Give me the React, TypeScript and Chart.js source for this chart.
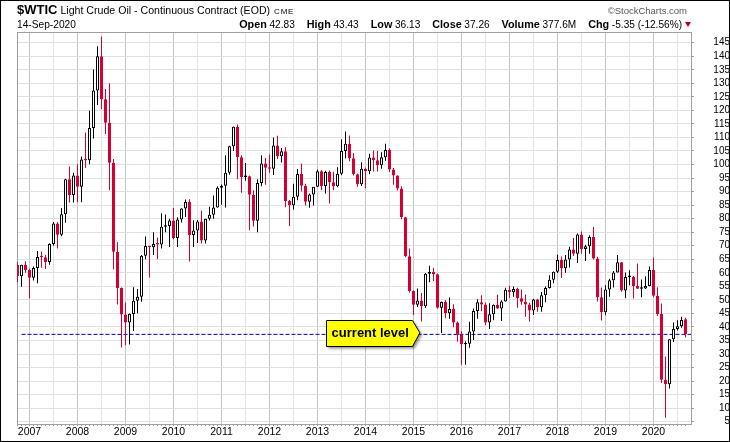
import { useEffect, useRef } from "react";
import { Chart, registerables } from "chart.js";

Chart.register(...registerables);

// ---------- data (monthly candles, Oct 2006 .. Sep 2020) ----------
// month index relative to Jan 2007 for the first candle
const firstMonthOffset = -3;

const opens = [
  62.9, 58.73, 62.97,
  61.05, 58.14, 61.79, 65.87, 65.71, 64.01, 70.68, 78.21, 74.04, 81.66, 94.53, 88.71,
  95.98, 91.75, 101.84, 101.58, 113.46, 127.35, 140.0, 124.08, 115.46, 100.64, 67.81, 54.43,
  44.6, 41.68, 44.76, 49.66, 51.12, 66.31, 69.89, 69.45, 70.61, 70.46, 77.0, 77.28,
  79.36, 72.89, 79.66, 83.76, 86.15, 73.97, 75.63, 78.95, 71.92, 79.97, 81.43, 84.11,
  91.38, 92.19, 96.97, 106.72, 113.93, 102.7, 95.42, 95.7, 88.81, 79.2, 93.19, 100.36,
  98.83, 98.48, 107.07, 103.02, 104.87, 86.53, 84.96, 88.06, 96.47, 92.19, 86.24, 88.91,
  91.82, 97.49, 92.05, 97.23, 93.46, 91.97, 96.56, 105.03, 107.65, 102.33, 96.38, 92.72,
  98.42, 97.49, 102.59, 101.58, 99.74, 102.71, 105.37, 98.17, 95.96, 91.16, 80.54, 66.15,
  53.27, 48.24, 49.76, 47.6, 59.63, 60.3, 59.47, 47.12, 49.2, 45.09, 46.59, 41.65,
  37.04, 33.62, 33.75, 38.34, 45.92, 49.1, 48.33, 41.6, 44.7, 48.24, 46.86, 49.44,
  53.72, 52.81, 54.01, 50.6, 49.33, 48.32, 46.04, 50.17, 47.23, 51.67, 54.38, 57.4,
  60.42, 64.73, 61.64, 64.94, 68.57, 67.04, 74.15, 68.76, 69.8, 73.25, 65.31, 50.93,
  45.41, 53.79, 57.22, 60.14, 63.91, 53.5, 58.47, 58.58, 55.1, 54.07, 54.18, 55.17,
  61.06, 51.56, 44.76, 20.48, 18.84, 35.49, 39.27, 40.27, 42.83,
];

const highs = [
  63.9, 63.0, 64.3,
  61.5, 62.3, 68.1, 67.9, 66.6, 70.9, 78.8, 78.8, 83.9, 94.7, 99.3, 97.0,
  100.1, 103.0, 111.8, 119.9, 135.1, 143.7, 147.3, 127.9, 130.0, 102.0, 71.3, 54.6,
  49.0, 45.0, 54.7, 54.0, 66.6, 73.4, 70.0, 75.0, 73.0, 82.0, 81.5, 80.0,
  83.95, 80.5, 83.8, 87.1, 87.2, 79.4, 79.5, 82.9, 80.0, 84.4, 88.6, 92.0,
  92.6, 103.4, 106.9, 114.0, 114.8, 103.4, 100.6, 95.9, 90.5, 94.6, 103.4, 102.4,
  103.7, 110.0, 110.6, 106.1, 106.4, 86.9, 92.9, 98.3, 100.4, 92.9, 89.3, 91.6,
  98.2, 98.0, 97.7, 97.8, 97.3, 99.0, 109.3, 112.2, 110.7, 104.3, 96.6, 100.8,
  98.9, 104.0, 105.2, 105.0, 104.5, 107.7, 106.0, 98.7, 96.0, 92.0, 80.6, 69.0,
  53.5, 54.2, 52.5, 59.9, 62.6, 61.9, 59.7, 49.4, 50.0, 50.9, 48.4, 42.0,
  38.4, 34.7, 41.9, 46.8, 50.2, 51.7, 49.0, 48.75, 48.3, 51.9, 49.9, 54.5,
  55.2, 54.9, 54.5, 53.8, 52.0, 48.9, 50.4, 50.4, 52.9, 54.9, 59.1, 60.5,
  66.7, 66.0, 66.6, 69.6, 72.9, 74.5, 75.3, 70.4, 73.9, 76.9, 65.9, 54.6,
  55.4, 57.8, 60.7, 66.6, 64.0, 60.1, 60.9, 58.8, 63.4, 57.5, 58.7, 62.3,
  65.65, 54.7, 48.7, 29.1, 35.5, 41.6, 42.5, 43.8, 43.43,
];

const lows = [
  56.55, 54.86, 60.0,
  50.48, 57.2, 56.1, 61.9, 61.4, 63.0, 70.0, 69.0, 73.5, 78.5, 86.0, 86.0,
  86.1, 86.1, 98.7, 100.1, 109.6, 122.0, 120.4, 111.3, 90.5, 61.3, 48.3, 32.4,
  33.2, 33.55, 38.5, 45.1, 49.3, 65.0, 58.3, 66.6, 65.1, 69.0, 75.0, 69.5,
  72.4, 69.5, 78.6, 80.6, 64.2, 69.5, 71.0, 70.8, 70.8, 79.3, 80.0, 84.1,
  85.1, 84.1, 96.2, 105.0, 94.6, 89.6, 94.0, 75.7, 77.1, 74.95, 92.0, 92.5,
  97.0, 96.1, 102.0, 100.7, 84.2, 77.3, 83.4, 86.8, 90.0, 84.9, 84.05, 84.9,
  91.8, 90.5, 89.3, 85.6, 90.5, 91.6, 96.0, 102.2, 101.2, 95.9, 91.8, 92.1,
  91.2, 96.4, 97.4, 97.4, 98.4, 101.4, 97.2, 92.5, 90.4, 79.8, 65.7, 52.7,
  44.4, 47.4, 42.0, 47.0, 56.5, 57.0, 46.7, 37.75, 43.2, 43.0, 39.9, 34.5,
  26.05, 26.05, 32.3, 35.2, 43.0, 45.8, 40.6, 39.2, 42.5, 46.6, 42.2, 49.4,
  50.7, 51.2, 47.1, 48.2, 43.8, 42.05, 44.4, 45.6, 45.6, 49.1, 54.2, 56.1,
  59.9, 58.1, 60.0, 62.0, 66.2, 63.6, 67.0, 64.4, 67.0, 64.9, 49.4, 42.4,
  44.35, 51.2, 54.6, 60.1, 53.0, 50.6, 55.4, 50.5, 54.0, 50.99, 54.0, 55.0,
  51.1, 44.0, 19.3, 6.5, 17.3, 34.4, 38.7, 39.7, 36.13,
];

const closes = [
  58.73, 62.97, 61.05,
  58.14, 61.79, 65.87, 65.71, 64.01, 70.68, 78.21, 74.04, 81.66, 94.53, 88.71, 95.98,
  91.75, 101.84, 101.58, 113.46, 127.35, 140.0, 124.08, 115.46, 100.64, 67.81, 54.43, 44.6,
  41.68, 44.76, 49.66, 51.12, 66.31, 69.89, 69.45, 70.61, 70.46, 77.0, 77.28, 79.36,
  72.89, 79.66, 83.76, 86.15, 73.97, 75.63, 78.95, 71.92, 79.97, 81.43, 84.11, 91.38,
  92.19, 96.97, 106.72, 113.93, 102.7, 95.42, 95.7, 88.81, 79.2, 93.19, 100.36, 98.83,
  98.48, 107.07, 103.02, 104.87, 86.53, 84.96, 88.06, 96.47, 92.19, 86.24, 88.91, 91.82,
  97.49, 92.05, 97.23, 93.46, 91.97, 96.56, 105.03, 107.65, 102.33, 96.38, 92.72, 98.42,
  97.49, 102.59, 101.58, 99.74, 102.71, 105.37, 98.17, 95.96, 91.16, 80.54, 66.15, 53.27,
  48.24, 49.76, 47.6, 59.63, 60.3, 59.47, 47.12, 49.2, 45.09, 46.59, 41.65, 37.04,
  33.62, 33.75, 38.34, 45.92, 49.1, 48.33, 41.6, 44.7, 48.24, 46.86, 49.44, 53.72,
  52.81, 54.01, 50.6, 49.33, 48.32, 46.04, 50.17, 47.23, 51.67, 54.38, 57.4, 60.42,
  64.73, 61.64, 64.94, 68.57, 67.04, 74.15, 68.76, 69.8, 73.25, 65.31, 50.93, 45.41,
  53.79, 57.22, 60.14, 63.91, 53.5, 58.47, 58.58, 55.1, 54.07, 54.18, 55.17, 61.06,
  51.56, 44.76, 20.48, 18.84, 35.49, 39.27, 40.27, 42.61, 37.26,
];

const yearLabels = [
  "2007", "2008", "2009", "2010", "2011", "2012", "2013",
  "2014", "2015", "2016", "2017", "2018", "2019", "2020",
];

const yTickValues = [
  5, 10, 15, 20, 25, 30, 35, 40, 45, 50, 55, 60, 65, 70, 75,
  80, 85, 90, 95, 100, 105, 110, 115, 120, 125, 130, 135, 140, 145,
];

const currentLevel = 37.26;
const currentLevelLabel = "current level";
const levelLineStartMonth = -2;
const calloutTipMonth = 97.6;

const titleSymbol = "$WTIC";
const titleName = "Light Crude Oil - Continuous Contract (EOD)";
const titleExchange = "CME";
const dateLabel = "14-Sep-2020";
const statLabels = ["Open", "High", "Low", "Close", "Volume", "Chg"];
const statValues = ["42.83", "43.43", "36.13", "37.26", "377.6M", "-5.35 (-12.56%)"];
const copyright = "\u00A9StockCharts.com";

// ---------- styling ----------
const FONT = "'Liberation Sans', Arial, Helvetica, sans-serif";
const RED = "#d40032";
const X_MIN = -3.125;
const X_MAX = 165.375;
const Y_MIN = 4.15;
const Y_MAX = 148.95;

export default function App() {
  const ref = useRef<HTMLCanvasElement | null>(null);

  useEffect(() => {
    document.body.style.margin = "0";
    const canvas = ref.current;
    if (!canvas) return;

    const months = opens.map((_, i) => i + firstMonthOffset);
    const isUp = closes.map((c, i) => c >= opens[i]);

    const bodyData = months.map((m, i) => ({
      x: m,
      y: [Math.min(opens[i], closes[i]), Math.max(opens[i], closes[i])],
    }));
    const wickData = months.map((m, i) => ({ x: m, y: [lows[i], highs[i]] }));

    const framePlugin = {
      id: "plotFrame",
      beforeDatasetsDraw(chart: any) {
        const { ctx, chartArea } = chart;
        const { left, top, right, bottom } = chartArea;
        ctx.save();
        ctx.strokeStyle = "#a0a0a0";
        ctx.lineWidth = 1;
        ctx.strokeRect(Math.round(left) + 0.5, Math.round(top) + 0.5, Math.round(right - left), Math.round(bottom - top));
        ctx.restore();
      },
    };

    const calloutPlugin = {
      id: "callout",
      afterDraw(chart: any) {
        const { ctx } = chart;
        const y = chart.scales.y.getPixelForValue(currentLevel);
        const tip = chart.scales.x.getPixelForValue(calloutTipMonth);
        const left = Math.round(tip - 94) + 0.5;
        const top = Math.round(y - 14) + 0.5;
        const bottom = Math.round(y + 12) + 0.5;
        const shoulder = Math.round(tip - 8) + 0.5;
        const tipY = y - 1.5;
        ctx.save();
        ctx.beginPath();
        ctx.moveTo(left, top);
        ctx.lineTo(shoulder, top);
        ctx.lineTo(tip, tipY);
        ctx.lineTo(shoulder, bottom);
        ctx.lineTo(left, bottom);
        ctx.closePath();
        ctx.shadowColor = "rgba(0,0,0,0.45)";
        ctx.shadowBlur = 3;
        ctx.shadowOffsetX = 2;
        ctx.shadowOffsetY = 2;
        ctx.fillStyle = "#ffff00";
        ctx.fill();
        ctx.shadowColor = "rgba(0,0,0,0)";
        ctx.strokeStyle = "#000";
        ctx.lineWidth = 1;
        ctx.stroke();
        ctx.fillStyle = "#000";
        ctx.font = `bold 13px ${FONT}`;
        ctx.textBaseline = "alphabetic";
        ctx.textAlign = "left";
        ctx.fillText(currentLevelLabel, tip - 88.3, y + 2.4);
        ctx.restore();
      },
    };

    const chart = new Chart(canvas, {
      type: "bar",
      data: {
        datasets: [
          {
            type: "line",
            label: "level",
            data: [
              { x: levelLineStartMonth, y: currentLevel },
              { x: X_MAX, y: currentLevel },
            ],
            borderColor: "rgb(0,0,185)",
            borderWidth: 1,
            borderDash: [4, 2],
            pointRadius: 0,
            fill: false,
            order: 3,
          } as any,
          {
            label: "wicks",
            data: wickData as any,
            backgroundColor: isUp.map((u) => (u ? "#000" : RED)),
            borderWidth: 0,
            barThickness: 1,
            grouped: false,
            inflateAmount: 0,
            order: 2,
          } as any,
          {
            label: "bodies",
            data: bodyData as any,
            backgroundColor: isUp.map((u) => (u ? "#ffffff" : RED)),
            borderColor: isUp.map((u) => (u ? "#000" : RED)),
            borderWidth: 1,
            borderSkipped: false,
            barThickness: 3,
            minBarLength: 1.5,
            grouped: false,
            inflateAmount: 0,
            order: 1,
          } as any,
        ],
      },
      options: {
        responsive: false,
        animation: false,
        events: [],
        layout: { padding: { left: 17, top: 32, right: 0, bottom: 0 } },
        plugins: {
          legend: { display: false },
          tooltip: { enabled: false },
          title: { display: false },
        },
        scales: {
          x: {
            type: "linear",
            min: X_MIN,
            max: X_MAX,
            offset: false,
            border: { display: false },
            grid: {
              offset: false,
              drawOnChartArea: true,
              tickLength: 2,
              color: (ctx: any) => {
                const v = ctx.tick ? ctx.tick.value : 1;
                if (v % 12 === 0) return "#c4c4c4";
                if (v % 6 === 0) return "#e2e2e2";
                return "rgba(0,0,0,0)";
              },
              tickColor: "#9a9a9a",
            },
            afterBuildTicks: (scale: any) => {
              scale.ticks = months.map((m) => ({ value: m }));
            },
            afterFit: (scale: any) => {
              scale.height = 18;
            },
            ticks: {
              autoSkip: false,
              maxRotation: 0,
              minRotation: 0,
              padding: 0,
              color: "#000",
              font: { family: FONT, size: 10.5 },
              callback: (value: any) => {
                const m = Number(value);
                return m % 12 === 0 && m >= 0 ? yearLabels[m / 12] ?? "" : "";
              },
            },
          },
          y: {
            type: "linear",
            position: "right",
            min: Y_MIN,
            max: Y_MAX,
            border: { display: false },
            grid: {
              color: "#e0e0e0",
              tickLength: 3,
              tickColor: "#9a9a9a",
            },
            afterBuildTicks: (scale: any) => {
              scale.ticks = yTickValues.map((v) => ({ value: v }));
            },
            afterFit: (scale: any) => {
              scale.width = 39;
            },
            ticks: {
              autoSkip: false,
              padding: 0,
              crossAlign: "far",
              color: "#000",
              font: { family: FONT, size: 10 },
            },
          },
        },
      } as any,
      plugins: [framePlugin, calloutPlugin],
    });

    return () => chart.destroy();
  }, []);

  return (
    <div
      style={{
        position: "absolute",
        left: 0,
        top: 0,
        width: 730,
        height: 442,
        background: "#fff",
        overflow: "hidden",
        fontFamily: FONT,
        color: "#000",
      }}
    >
      <canvas
        ref={ref}
        width={730}
        height={442}
        style={{ position: "absolute", left: 0, top: 0, width: 730, height: 442 }}
      />
      {/* title line 1 */}
      <div
        style={{
          position: "absolute",
          left: 17,
          top: 2,
          fontSize: 13,
          lineHeight: "16px",
          whiteSpace: "nowrap",
        }}
      >
        <span style={{ fontWeight: 700, fontSize: 13 }}>{titleSymbol}</span>
        <span style={{ fontSize: 10.6, marginLeft: 3 }}>{titleName}</span>
        <span style={{ fontSize: 8, marginLeft: 4, letterSpacing: 0.8 }}>{titleExchange}</span>
      </div>
      <div
        style={{
          position: "absolute",
          right: 43,
          top: 2,
          fontSize: 13,
          lineHeight: "16px",
          whiteSpace: "nowrap",
        }}
      >
        <span style={{ fontSize: 9.5, color: "#555" }}>{copyright}</span>
      </div>
      {/* line 2 */}
      <div
        style={{
          position: "absolute",
          left: 17,
          top: 16.5,
          fontSize: 11,
          lineHeight: "14px",
          whiteSpace: "nowrap",
        }}
      >
        <span style={{ fontSize: 10.2 }}>{dateLabel}</span>
      </div>
      <div
        style={{
          position: "absolute",
          right: 39,
          top: 16.5,
          fontSize: 11,
          lineHeight: "14px",
          whiteSpace: "nowrap",
        }}
      >
        {statLabels.map((lab, i) => (
          <span key={lab} style={{ marginLeft: i === 0 ? 0 : 12 }}>
            <span style={{ fontWeight: 700, fontSize: 10.8 }}>{lab}</span>
            <span style={{ fontSize: 10.1, marginLeft: 2.7 }}>{statValues[i]}</span>
          </span>
        ))}
        <span
          style={{
            display: "inline-block",
            marginLeft: 3,
            width: 0,
            height: 0,
            borderLeft: "3px solid transparent",
            borderRight: "3px solid transparent",
            borderTop: "5px solid #b0002a",
            verticalAlign: "1px",
          }}
        />
      </div>
      {/* outer frame */}
      <div
        style={{
          position: "absolute",
          left: 0,
          top: 0,
          width: 730,
          height: 442,
          border: "1px solid #000",
          boxSizing: "border-box",
          pointerEvents: "none",
        }}
      />
    </div>
  );
}
